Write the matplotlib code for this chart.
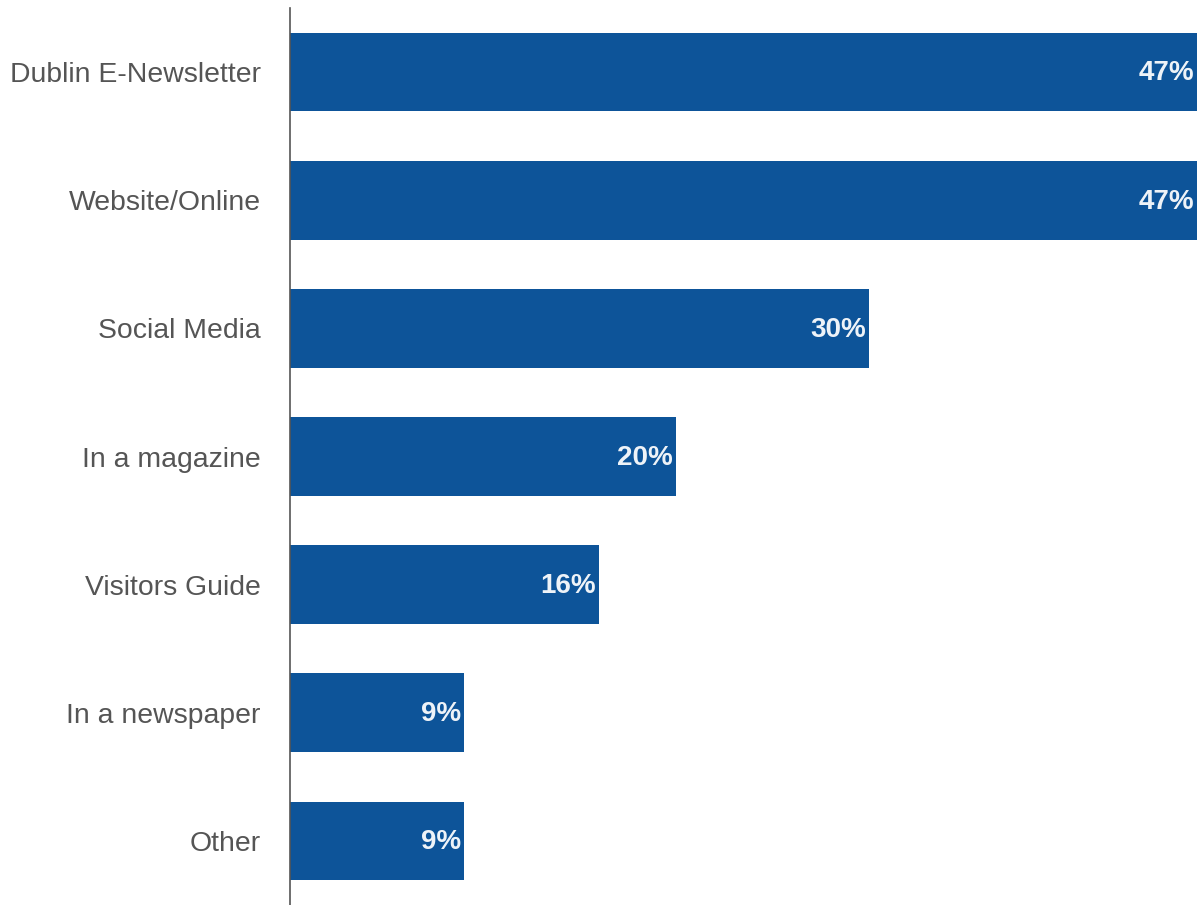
import matplotlib.pyplot as plt

plt.rcParams['font.family'] = ['Liberation Sans', 'DejaVu Sans']

sources = ['Dublin E-Newsletter', 'Website/Online', 'Social Media', 'In a magazine',
           'Visitors Guide', 'In a newspaper', 'Other']
shares = [47, 47, 30, 20, 16, 9, 9]

fig = plt.figure(figsize=(11.97, 9.05), dpi=100)
ax = fig.add_axes([290 / 1197, 0, 1 - 290 / 1197, 1 - 8 / 905])

pos = list(range(len(sources)))
bars = ax.barh(pos, shares, height=0.615, color='#0d5499')

for b, v in zip(bars, shares):
    ax.annotate(f'{v}%', xy=(b.get_width(), b.get_y() + b.get_height() / 2),
                xytext=(-2, -1), textcoords='offset points', ha='right', va='center',
                color='#eef3f8', fontsize=20, fontweight='bold', annotation_clip=False)

ax.set_xlim(0, 47)
ax.set_ylim(len(sources) - 0.5, -0.5)
ax.set_yticks(pos)
ax.set_yticklabels(sources, fontsize=20.4, color='#555555')
ax.tick_params(axis='y', length=0, pad=21)
ax.set_xticks([])
for s in ['top', 'right', 'bottom']:
    ax.spines[s].set_visible(False)
ax.spines['left'].set_color('#555555')
ax.spines['left'].set_linewidth(1.2)

fig.savefig('out.png', dpi=100)
